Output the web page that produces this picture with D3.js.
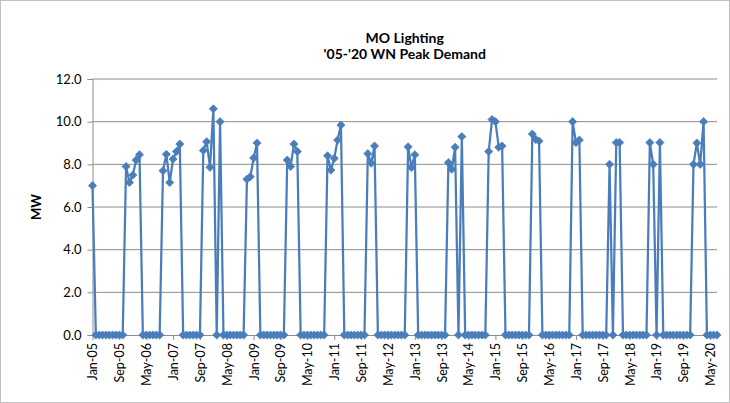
<!DOCTYPE html>
<html lang="en">
  <head>
    <meta charset="UTF-8" />
    <title>MO Lighting Peak Demand</title>
    <script src="https://cdnjs.cloudflare.com/ajax/libs/d3/7.8.5/d3.min.js"></script>
    <style>
      body { margin: 0; background: #fff; }
      #chart { width: 730px; height: 403px; }
      text { font-family: Lato, "Liberation Sans", sans-serif; fill: #000; }
    </style>
  </head>
  <body>
    <div id="chart"></div>
    <script>
      // monthly values, Jan-05 .. Jul-20 (one row per year)
      const values = [
        7.0, 0, 0, 0, 0, 0, 0, 0, 0, 0, 7.9, 7.15,
        7.5, 8.2, 8.45, 0, 0, 0, 0, 0, 0, 7.7, 8.47, 7.15,
        8.25, 8.6, 8.95, 0, 0, 0, 0, 0, 0, 8.65, 9.06, 7.86,
        10.6, 0, 10.0, 0, 0, 0, 0, 0, 0, 0, 7.3, 7.42,
        8.3, 9.0, 0, 0, 0, 0, 0, 0, 0, 0, 8.2, 7.9,
        8.95, 8.6, 0, 0, 0, 0, 0, 0, 0, 0, 8.4, 7.73,
        8.28, 9.14, 9.84, 0, 0, 0, 0, 0, 0, 0, 8.5, 8.05,
        8.86, 0, 0, 0, 0, 0, 0, 0, 0, 0, 8.82, 7.85,
        8.45, 0, 0, 0, 0, 0, 0, 0, 0, 0, 8.08, 7.77,
        8.8, 0, 9.3, 0, 0, 0, 0, 0, 0, 0, 8.6, 10.1,
        10.0, 8.8, 8.86, 0, 0, 0, 0, 0, 0, 0, 0, 9.42,
        9.17, 9.09, 0, 0, 0, 0, 0, 0, 0, 0, 0, 10.0,
        9.02, 9.14, 0, 0, 0, 0, 0, 0, 0, 0, 8.0, 0,
        9.02, 9.02, 0, 0, 0, 0, 0, 0, 0, 0, 9.02, 8.0,
        0, 9.02, 0, 0, 0, 0, 0, 0, 0, 0, 0, 8.0,
        9.0, 8.0, 10.0, 0, 0, 0, 0
      ];

      // one label every 8 months
      const tickLabels = [
        "Jan-05", "Sep-05", "May-06", "Jan-07", "Sep-07", "May-08",
        "Jan-09", "Sep-09", "May-10", "Jan-11", "Sep-11", "May-12",
        "Jan-13", "Sep-13", "May-14", "Jan-15", "Sep-15", "May-16",
        "Jan-17", "Sep-17", "May-18", "Jan-19", "Sep-19", "May-20"
      ];
      const yTicks = [0, 2, 4, 6, 8, 10, 12];

      const width = 730, height = 403;
      const plotLeft = 92.5, plotRight = 717, plotTop = 79, plotBottom = 335;
      const lineColor = "#4a7ebb";

      const svg = d3.select("#chart").append("svg")
        .attr("width", width)
        .attr("height", height);

      // outer chart border
      svg.append("rect")
        .attr("x", 0.5).attr("y", 0.5)
        .attr("width", width - 1).attr("height", height - 1)
        .attr("fill", "#fff")
        .attr("stroke", "#bfbfbf");

      const x = d3.scaleLinear().domain([0, values.length - 1]).range([plotLeft, plotRight]);
      const y = d3.scaleLinear().domain([0, 12]).range([plotBottom, plotTop]);

      // gridlines
      svg.append("g")
        .selectAll("line")
        .data(yTicks.slice(1))
        .join("line")
        .attr("x1", plotLeft).attr("x2", plotRight)
        .attr("y1", (d) => y(d)).attr("y2", (d) => y(d))
        .attr("stroke", "#8c8c8c")
        .attr("stroke-width", 1);

      // y axis
      const yAxis = svg.append("g")
        .attr("transform", `translate(${plotLeft},0)`)
        .call(d3.axisLeft(y).tickValues(yTicks).tickFormat(d3.format(".1f")).tickSize(5).tickPadding(6));
      yAxis.select(".domain").attr("stroke", "#8c8c8c");
      yAxis.selectAll(".tick line").attr("stroke", "#8c8c8c");
      yAxis.selectAll("text").attr("font-size", "13px");

      // x axis
      const xAxis = svg.append("g")
        .attr("transform", `translate(0,${plotBottom})`)
        .call(
          d3.axisBottom(x)
            .tickValues(tickLabels.map((d, i) => i * 8))
            .tickFormat((d) => tickLabels[d / 8])
            .tickSize(5)
            .tickSizeOuter(0)
        );
      xAxis.select(".domain").attr("stroke", "#8c8c8c");
      xAxis.selectAll(".tick line").attr("stroke", "#8c8c8c");
      xAxis.selectAll("text")
        .attr("font-size", "12.5px")
        .attr("transform", "rotate(-90)")
        .attr("text-anchor", "end")
        .attr("x", -8)
        .attr("y", 0)
        .attr("dy", "0.35em");

      // series line
      const line = d3.line()
        .x((d, i) => x(i))
        .y((d) => y(d));

      svg.append("path")
        .datum(values)
        .attr("fill", "none")
        .attr("stroke", lineColor)
        .attr("stroke-width", 2.25)
        .attr("stroke-linejoin", "round")
        .attr("d", line);

      // diamond markers
      const diamond = d3.symbol().type(d3.symbolDiamond2).size(42);
      svg.append("g")
        .selectAll("path")
        .data(values)
        .join("path")
        .attr("transform", (d, i) => `translate(${x(i)},${y(d)})`)
        .attr("d", diamond)
        .attr("fill", lineColor)
        .attr("stroke", lineColor)
        .attr("stroke-width", 0.8);

      // title
      const title = svg.append("text")
        .attr("text-anchor", "middle")
        .attr("font-size", "14px")
        .attr("font-weight", "bold");
      title.append("tspan").attr("x", (plotLeft + plotRight) / 2).attr("y", 43).text("MO Lighting");
      title.append("tspan").attr("x", (plotLeft + plotRight) / 2).attr("y", 59).text("'05-'20 WN Peak Demand");

      // y axis title
      svg.append("text")
        .attr("transform", `translate(41,${(plotTop + plotBottom) / 2}) rotate(-90)`)
        .attr("text-anchor", "middle")
        .attr("font-size", "13px")
        .attr("font-weight", "bold")
        .text("MW");
    </script>
  </body>
</html>
